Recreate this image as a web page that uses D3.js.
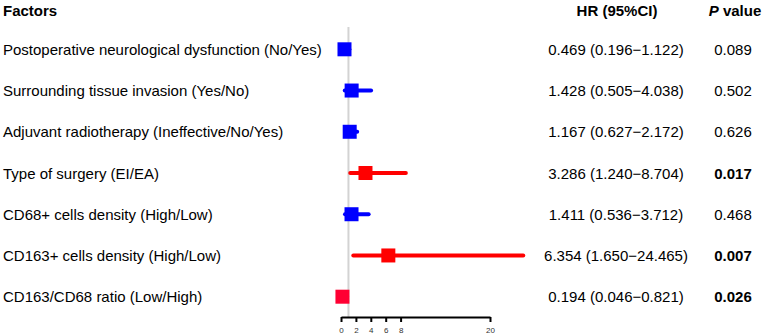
<!DOCTYPE html>
<html>
<head>
<meta charset="utf-8">
<script src="https://cdn.jsdelivr.net/npm/d3@7"></script>
<style>
  body { margin: 0; background: #fff; }
  svg { font-family: "Liberation Sans", Arial, sans-serif; }
</style>
</head>
<body>
<div id="chart"></div>
<script>
let factors = [
  'Postoperative neurological dysfunction (No/Yes)',
  'Surrounding tissue invasion (Yes/No)',
  'Adjuvant radiotherapy (Ineffective/No/Yes)',
  'Type of surgery (EI/EA)',
  'CD68+ cells density (High/Low)',
  'CD163+ cells density (High/Low)',
  'CD163/CD68 ratio (Low/High)'
];
let hr = [0.469, 1.428, 1.167, 3.286, 1.411, 6.354, 0.194];
let ciLow = [0.196, 0.505, 0.627, 1.240, 0.536, 1.650, 0.046];
let ciHigh = [1.122, 4.038, 2.172, 8.704, 3.712, 24.465, 0.821];
let pValues = ['0.089', '0.502', '0.626', '0.017', '0.468', '0.007', '0.026'];
let markColors = ['#0000ff', '#0000ff', '#0000ff', '#ff0000', '#0000ff', '#ff0000', '#ff0033'];
let axisTicks = [0, 2, 4, 6, 8, 20];

let width = 763, height = 336,
  fontSize = 15;

let svg = d3.select('#chart').append('svg')
  .attr('width', width)
  .attr('height', height);

let data = factors.map((f, i) => ({
  factor: f, hr: hr[i], lo: ciLow[i], hi: ciHigh[i], p: pValues[i], color: markColors[i]
}));

let x = d3.scaleLinear().domain([0, 20]).range([341, 490]);
let y = d3.scalePoint().domain(factors).range([49.3, 296.7]);
let fmt = d3.format('.3f');

// headers
svg.append('text')
  .attr('x', 3).attr('y', 10)
  .attr('dominant-baseline', 'central')
  .attr('font-size', fontSize).attr('font-weight', 'bold')
  .text('Factors');

svg.append('text')
  .attr('x', 617).attr('y', 10)
  .attr('dominant-baseline', 'central')
  .attr('text-anchor', 'middle')
  .attr('font-size', fontSize).attr('font-weight', 'bold')
  .text('HR (95%CI)');

let pHead = svg.append('text')
  .attr('x', 735).attr('y', 10)
  .attr('dominant-baseline', 'central')
  .attr('text-anchor', 'middle')
  .attr('font-size', fontSize).attr('font-weight', 'bold');
pHead.append('tspan').attr('font-style', 'italic').text('P');
pHead.append('tspan').text(' value');

// reference line at HR = 1
svg.append('line')
  .attr('x1', x(1)).attr('x2', x(1))
  .attr('y1', 27).attr('y2', 317)
  .attr('stroke', '#d3d3d3')
  .attr('stroke-width', 2);

let rows = svg.selectAll('.row')
  .data(data)
  .enter()
  .append('g')
  .attr('class', 'row')
  .attr('transform', d => 'translate(0,' + y(d.factor) + ')');

rows.append('text')
  .attr('x', 3)
  .attr('dominant-baseline', 'central')
  .attr('font-size', fontSize)
  .attr('fill', '#000')
  .text(d => d.factor);

rows.append('line')
  .attr('x1', d => x(d.lo))
  .attr('x2', d => x(d.hi))
  .attr('stroke', d => d.color)
  .attr('stroke-width', 4)
  .attr('stroke-linecap', 'round');

rows.append('rect')
  .attr('x', d => x(d.hr) - 7)
  .attr('y', -7)
  .attr('width', 14)
  .attr('height', 14)
  .attr('fill', d => d.color);

rows.append('text')
  .attr('x', 616)
  .attr('text-anchor', 'middle')
  .attr('dominant-baseline', 'central')
  .attr('font-size', fontSize)
  .text(d => fmt(d.hr) + ' (' + fmt(d.lo) + '\u2212' + fmt(d.hi) + ')');

rows.append('text')
  .attr('x', 733)
  .attr('text-anchor', 'middle')
  .attr('dominant-baseline', 'central')
  .attr('font-size', fontSize)
  .attr('font-weight', d => +d.p < 0.05 ? 'bold' : 'normal')
  .text(d => d.p);

// x axis
let axis = svg.append('g')
  .attr('transform', 'translate(0,317)')
  .call(d3.axisBottom(x).tickValues(axisTicks).tickSize(5).tickSizeOuter(0));

axis.select('.domain').attr('stroke', '#000').attr('stroke-width', 2);
axis.selectAll('.tick line').attr('stroke', '#000').attr('stroke-width', 2);
axis.selectAll('.tick text')
  .attr('font-size', 8)
  .attr('fill', '#333')
  .attr('y', 10);
</script>
</body>
</html>
